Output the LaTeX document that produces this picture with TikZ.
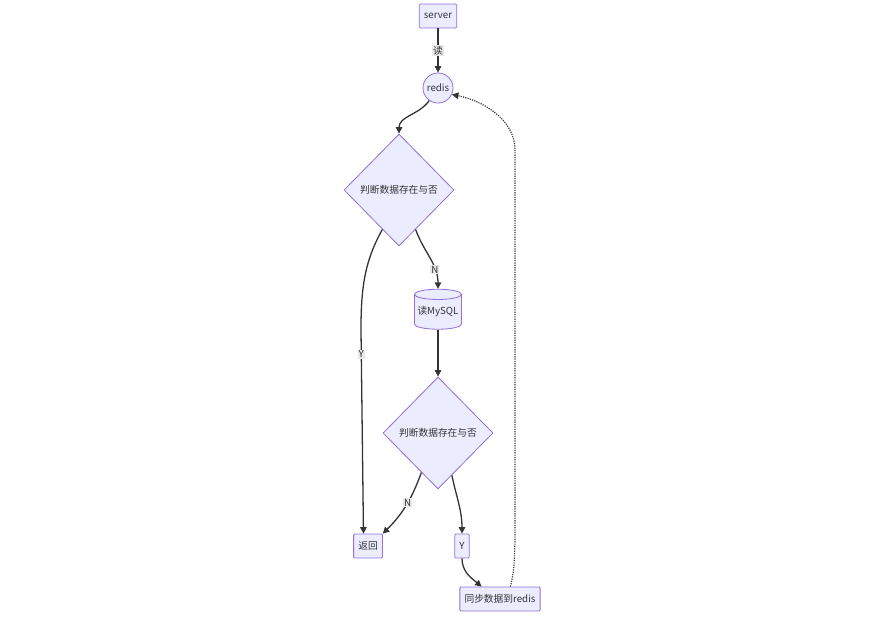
\documentclass[tikz,border=0pt]{standalone}
\usepackage{fontspec}
\setmainfont{Noto Sans CJK SC}
\usepackage{tikz}
\usetikzlibrary{shapes.geometric,arrows.meta,calc}
\definecolor{node_fill}{HTML}{ECECFF}
\definecolor{node_line}{HTML}{9370DB}
\definecolor{flow_line}{HTML}{333333}
\definecolor{label_bg}{HTML}{E8E8E8}

\begin{document}
\begin{tikzpicture}[
                x=0.03cm, y=0.03cm,
                every node/.style={inner sep=2pt, font=\fontsize{8.3}{10}\selectfont, text=flow_line},
                box/.style={draw=node_line, fill=node_fill, line width=0.7pt, rounded corners=1pt, minimum height=0.72cm, inner xsep=4pt},
                roundbox/.style={box, circle, minimum size=0.9cm, inner sep=0pt},
                decision/.style={draw=node_line, fill=node_fill, line width=0.7pt, diamond, minimum width=3.3cm, minimum height=3.36cm, inner sep=0pt},
                database/.style={draw=node_line, fill=node_fill, line width=0.7pt, cylinder, shape border rotate=90, aspect=0.25, minimum width=1.41cm, minimum height=1.2cm, inner sep=0pt},
                elabel/.style={fill=label_bg, inner sep=1pt},
                flow/.style={draw=flow_line, line width=1.1pt, -{Triangle[length=5.5pt,width=5.5pt]}},
                syncflow/.style={flow, line width=1pt, densely dotted}
            ]
                % Page frame
                \useasboundingbox (0,0) rectangle (885,-617);

                % Elements placing
                \node[box] (server) at (438,-16) {server};
                \node[roundbox] (redis) at (438,-88) {redis};
                \node[decision] (check1) at (399,-190) {判断数据存在与否};
                \node[database] (mysql) at (438,-312) {读MySQL};
                \node[decision] (check2) at (438,-433) {判断数据存在与否};
                \node[box] (ret) at (368,-546) {返回};
                \node[box] (yes) at (462,-546) {Y};
                \node[box] (sync) at (500,-599) {同步数据到redis};

                % Read path
                \draw[flow] (server) -- node[elabel] {读} (redis);
                \draw[flow] (redis.235) to[out=-125,in=90] (check1.north);

                % First check: hit -> return, miss -> MySQL
                \draw[flow] ($(check1.west)!0.7!(check1.south)$) .. controls (364,-262) and (361,-290) .. (361,-330)
                    -- node[elabel, pos=0.12] {Y} (ret.110);
                \draw[flow] ($(check1.east)!0.7!(check1.south)$) to[out=-70,in=90] node[elabel, pos=0.7] {N} (mysql.north);
                \draw[flow] (mysql) -- (check2);

                % Second check
                \draw[flow] ($(check2.west)!0.7!(check2.south)$) to[out=-110,in=45] node[elabel, pos=0.45] {N} (ret.north east);
                \draw[flow] ($(check2.east)!0.75!(check2.south)$) to[out=-78,in=90] (yes.north);
                \draw[flow] (yes.south) to[out=-90,in=140] (sync.146);

                % Write back to redis
                \draw[syncflow] (sync.50) .. controls (514,-570) .. (515,-540) -- (515,-150)
                    .. controls (515,-118) and (480,-100) .. (redis.-25);
            \end{tikzpicture}
\end{document}
